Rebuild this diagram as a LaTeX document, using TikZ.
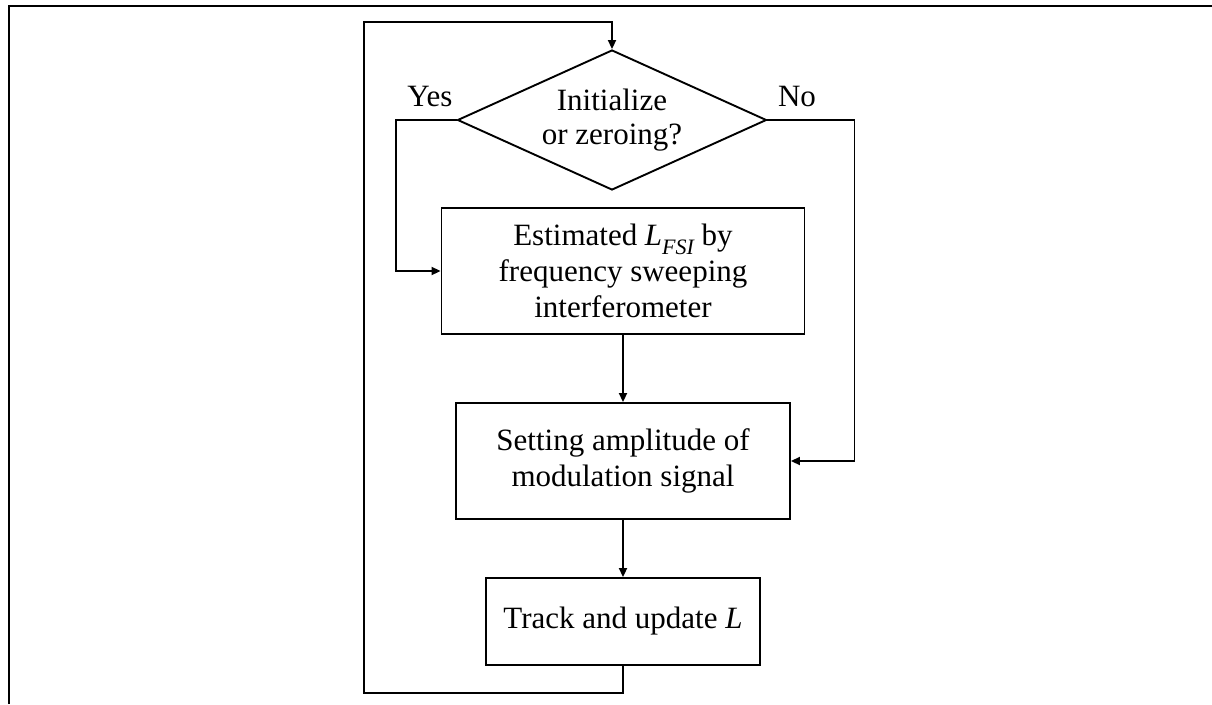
\documentclass[tikz,border=0pt]{standalone}
\usepackage{fontspec}
\setmainfont{Liberation Serif}
\usetikzlibrary{arrows.meta,shapes.geometric}

\begin{document}
\begin{tikzpicture}[x=1pt,y=-1pt,line width=1.9pt,
  txt/.style={font=\fontsize{31}{36}\selectfont},
  box/.style={txt,draw,rectangle,inner sep=0pt,align=center},
  decision/.style={txt,draw,diamond,shape aspect=2.2,inner sep=0pt,align=center},
  flow/.style={-{Triangle[length=9pt,width=8pt]}}]

\useasboundingbox (0,0) rectangle (1212,704);

% outer frame (top and left edges)
\draw[line width=2pt] (9,704) -- (9,6) -- (1212,6);

% decision and process steps
\node[decision,minimum width=309pt,minimum height=140pt] (dec) at (612,120)
  {Initialize\\[-2pt]or zeroing?};
\node[box,minimum width=363pt,minimum height=126pt] (est) at (623,271)
  {Estimated \textit{L}\raisebox{-0.28em}{\fontsize{22}{22}\selectfont\itshape FSI} by\\frequency sweeping\\interferometer};
\node[box,minimum width=334pt,minimum height=116pt] (amp) at (623,461)
  {Setting amplitude of\\modulation signal};
\node[box,minimum width=274pt,minimum height=87pt] (trk) at (623,621.5)
  {Track and update \textit{L}};

% branch labels
\node[txt] (yes) at (430,97) {Yes};
\node[txt] (no) at (797,97) {No};

% loop-back corners
\coordinate (lb) at (364,693);
\coordinate (lt) at (364,22);

% connectors
\draw[flow] (dec.west) -- ++(-61,0) |- (est.west);
\draw[flow] (dec.east) -- ++(87,0) |- (amp.east);
\draw[flow] (est) -- (amp);
\draw[flow] (amp) -- (trk);
\draw[flow] (trk.south) |- (lb) -- (lt) -| (dec.north);
\end{tikzpicture}
\end{document}
